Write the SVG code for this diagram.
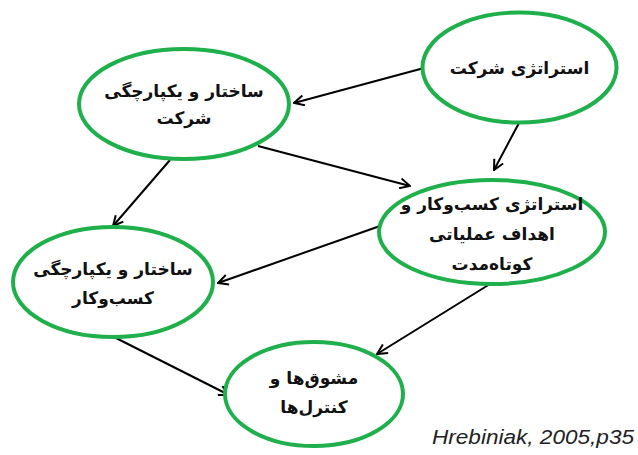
<svg xmlns="http://www.w3.org/2000/svg" width="638" height="455" viewBox="0 0 638 455">
<style>
.n{fill:#fff;stroke:#1faf4b;stroke-width:4}
.t{font-family:"DejaVu Sans",sans-serif;font-size:17px;font-weight:bold;fill:#111;text-anchor:middle;direction:rtl}
.c{stroke:#000;stroke-width:2;fill:none;marker-end:url(#a)}
</style>
<defs>
<marker id="a" viewBox="0 0 12 12" refX="11" refY="6" markerWidth="12" markerHeight="12" markerUnits="userSpaceOnUse" orient="auto">
<path d="M1,1 L11,6 L1,11" fill="none" stroke="#000" stroke-width="2"/>
</marker>
</defs>
<rect width="638" height="455" fill="#fff"/>
<g id="connectors">
<line class="c" x1="424" y1="68" x2="294" y2="103"/>
<line class="c" x1="519" y1="123" x2="494" y2="170"/>
<line class="c" x1="258" y1="146" x2="410" y2="186"/>
<line class="c" x1="170" y1="160" x2="113" y2="226"/>
<line class="c" x1="380" y1="226" x2="218" y2="283"/>
<line class="c" x1="114" y1="337" x2="229" y2="395"/>
<line class="c" x1="490" y1="284" x2="377" y2="354"/>
</g>
<g id="n1">
<ellipse class="n" cx="519.5" cy="67.5" rx="97" ry="55"/>
<text class="t" x="519.5" y="74">استراتژی شرکت</text>
</g>
<g id="n2">
<ellipse class="n" cx="184" cy="104" rx="105" ry="55"/>
<text class="t" x="184" y="97">ساختار و یکپارچگی</text>
<text class="t" x="184" y="124">شرکت</text>
</g>
<g id="n3">
<ellipse class="n" cx="492" cy="232" rx="113" ry="52"/>
<text class="t" x="492" y="210">استراتژی کسب‌وکار و</text>
<text class="t" x="492" y="240">اهداف عملیاتی</text>
<text class="t" x="492" y="270">کوتاه‌مدت</text>
</g>
<g id="n4">
<ellipse class="n" cx="113" cy="282" rx="100" ry="55"/>
<text class="t" x="113" y="275">ساختار و یکپارچگی</text>
<text class="t" x="113" y="304">کسب‌وکار</text>
</g>
<g id="n5">
<ellipse class="n" cx="314" cy="394" rx="89" ry="52"/>
<text class="t" x="314" y="384">مشوق‌ها و</text>
<text class="t" x="314" y="413">کنترل‌ها</text>
</g>
<text x="432" y="444" font-family="'Liberation Sans',sans-serif" font-style="italic" font-size="20" fill="#222" textLength="202" lengthAdjust="spacingAndGlyphs">Hrebiniak, 2005,p35</text>
</svg>
